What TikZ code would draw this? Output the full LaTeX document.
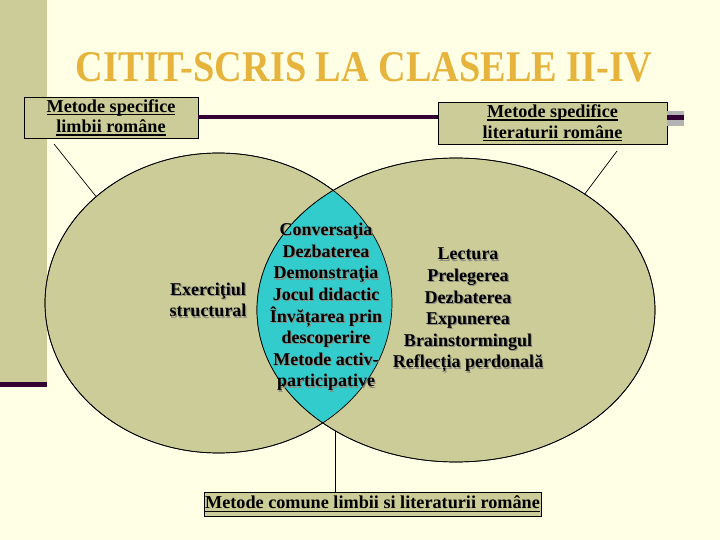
\documentclass[tikz,border=0pt]{standalone}
\usepackage{fontspec}
\usepackage{graphicx}
\setmainfont{Liberation Serif}
\usetikzlibrary{shapes.geometric}
\definecolor{cream}{HTML}{FFFFE5}
\definecolor{olive}{HTML}{CCCC99}
\definecolor{lenscyan}{HTML}{33CCCC}
\definecolor{darkplum}{HTML}{330033}
\definecolor{titlegold}{HTML}{E6B43C}
\definecolor{bargray}{HTML}{B3B3B3}
\definecolor{shadowgray}{HTML}{8C8C80}
\newcommand\shw[1]{\makebox[0pt][l]{\hspace{1.2pt}\raisebox{-1.2pt}{\textcolor{shadowgray}{#1}}}#1}
\newcommand\ulx[1]{\setbox0\hbox{#1}\rlap{\rule[-3pt]{\wd0}{1.3pt}}\box0}
\begin{document}
\begin{tikzpicture}[x=1pt,y=-1pt,
  labelbox/.style={draw=black, line width=0.8pt, fill=olive, inner sep=0pt, align=center,
    font=\bfseries\fontsize{18.2}{20.5}\selectfont},
  blob/.style={ellipse, draw=black, line width=0.7pt, fill=olive, inner sep=0pt, outer sep=0pt},
  etext/.style={align=center, inner sep=0pt, font=\bfseries\fontsize{18}{21.6}\selectfont},
  link/.style={draw=black, line width=0.7pt}]
\useasboundingbox (0,0) rectangle (720,540);
\fill[cream] (0,0) rectangle (720,540);
\fill[olive] (0,0) rectangle (47,382);
\fill[darkplum] (0,382) rectangle (47,387);

% bottom box and its connector
\node[labelbox, minimum width=337pt, minimum height=24pt] (B) at (372.5,504)
  {\ulx{Metode comune limbii si literaturii române}};
\coordinate (lb) at (335,420);
\draw[link] (lb) -- (lb |- B.north);

% ellipses
\node[blob, minimum width=347pt, minimum height=300pt] (L) at (218.5,303) {};
\node[blob, minimum width=398pt, minimum height=304pt] (R) at (456,310) {};
\begin{scope}
  \clip (218.5,303) ellipse [x radius=173.5pt, y radius=150pt];
  \fill[lenscyan] (456,310) ellipse [x radius=199pt, y radius=152pt];
\end{scope}
\draw[line width=0.7pt] (218.5,303) ellipse [x radius=173.5pt, y radius=150pt];
\draw[line width=0.7pt] (456,310) ellipse [x radius=199pt, y radius=152pt];

% top boxes
\node[labelbox, minimum width=174pt, minimum height=41pt] (A) at (111,117.5)
  {\ulx{Metode specifice}\\\ulx{limbii române}};
\node[labelbox, minimum width=229pt, minimum height=42pt] (C) at (552.5,123)
  {\ulx{Metode spedifice}\\\ulx{literaturii române}};
\draw[darkplum, line width=4pt] (A.east) -- (C.west |- A.east);
\fill[bargray] (667,111) rectangle (684,126);
\fill[darkplum] (667,115) rectangle (684,120);

% connectors from boxes to ellipses
\coordinate (lt) at (54,144);
\draw[link] (lt) -- (L.139);
\coordinate (rt) at (617,151);
\draw[link] (rt) -- (R.42);

% texts
\node[etext] (ex) at (208,300.5) {\shw{Exerciţiul}\\\shw{structural}};
\node[etext] (lens) at (326,307.5) {\shw{Conversaţia}\\\shw{Dezbaterea}\\\shw{Demonstraţia}\\
  \shw{Jocul didactic}\\\shw{Învățarea prin}\\\shw{descoperire}\\\shw{Metode activ-}\\\shw{participative}};
\node[etext] (lit) at (468,311) {\shw{Lectura}\\\shw{Prelegerea}\\\shw{Dezbaterea}\\
  \shw{Expunerea}\\\shw{Brainstormingul}\\\shw{Reflecția perdonală}};

\node[text=titlegold, inner sep=0pt] (title) at (364,67.5)
  {\resizebox{576pt}{29pt}{\bfseries CITIT-SCRIS LA CLASELE II-IV}};
\end{tikzpicture}
\end{document}
